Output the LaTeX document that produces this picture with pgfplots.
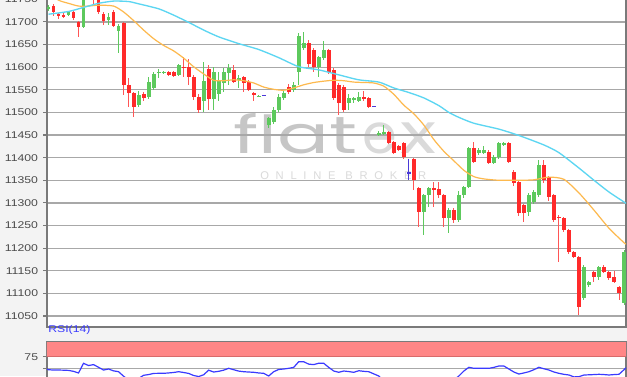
\documentclass[border=0pt]{standalone}
\usepackage{fontspec}
\setmainfont{Liberation Sans}
\newfontfamily\tickfont[FakeStretch=1.25]{Liberation Sans}
\newfontfamily\wmfont{Poppins}
\newfontfamily\wmsmall[LetterSpace=60]{Liberation Sans}
\usepackage{graphicx}
\usepackage{pgfplots}
\pgfplotsset{compat=1.18}
\usepackage{pgfplotstable}

\definecolor{bgc}{HTML}{F3F3F3}
\definecolor{framec}{HTML}{7A7A7A}
\definecolor{gridc}{HTML}{A8A8A8}
\definecolor{upc}{HTML}{5DC95D}
\definecolor{dnc}{HTML}{FF2A2A}
\definecolor{neuc}{HTML}{4A3AD8}
\definecolor{ma1}{HTML}{FDB94E}
\definecolor{ma2}{HTML}{5CD6F2}
\definecolor{rsic}{HTML}{3A3AFF}
\definecolor{bandc}{HTML}{FF8686}
\definecolor{bandl}{HTML}{D86A6A}
\definecolor{labc}{HTML}{4A4A4A}
\definecolor{wm1}{HTML}{C6C6C6}
\definecolor{wm2}{HTML}{DADADA}

% k O H L C
\pgfplotstableread{
k O H L C
0 11728 11738 11725 11733
4 11716 11724 11714 11721
7 11688 11780 11686 11765
8 11765 11795 11760 11785
12 11704 11720 11693 11712
14 11680 11695 11632 11692
18 11516 11548 11512 11538
20 11535 11578 11530 11568
21 11553 11590 11550 11586
22 11587 11595 11575 11590
23 11588 11592 11585 11590
26 11583 11608 11580 11605
31 11525 11612 11500 11570
33 11530 11600 11505 11590
34 11540 11590 11525 11571
35 11565 11598 11545 11590
36 11588 11606 11560 11598
38 11572 11583 11555 11575
42 11535 11538 11534 11537
44 11472 11490 11465 11488
45 11479 11512 11475 11505
46 11505 11540 11500 11534
47 11531 11548 11528 11542
49 11549 11567 11545 11560
50 11590 11675 11560 11668
51 11642 11677 11638 11653
54 11600 11625 11578 11622
55 11620 11657 11615 11638
60 11520 11540 11505 11531
61 11528 11535 11520 11532
62 11526 11545 11522 11535
66 11450 11458 11447 11454
67 11452 11472 11450 11456
75 11280 11320 11229 11317
76 11317 11336 11290 11333
80 11266 11288 11234 11284
82 11262 11327 11258 11317
83 11317 11338 11312 11335
84 11335 11424 11332 11421
86 11410 11421 11405 11418
87 11410 11425 11408 11418
89 11388 11405 11385 11401
90 11401 11434 11398 11432
91 11428 11434 11425 11432
96 11280 11322 11270 11317
97 11302 11328 11298 11324
98 11317 11395 11312 11383
107 11090 11162 11085 11158
108 11118 11128 11115 11125
110 11136 11160 11130 11158
115 11079 11195 11075 11191
}\upT

\pgfplotstableread{
k O H L C
1 11736 11740 11714 11722
2 11718 11720 11706 11714
3 11716 11720 11708 11712
5 11723 11726 11705 11709
6 11700 11702 11667 11688
9 11780 11785 11735 11760
10 11765 11770 11718 11722
11 11718 11722 11693 11702
13 11722 11726 11688 11690
15 11697 11700 11538 11560
16 11560 11575 11511 11542
17 11543 11545 11490 11512
19 11540 11545 11525 11531
24 11590 11592 11580 11583
25 11590 11592 11578 11580
27 11601 11622 11578 11598
28 11600 11618 11560 11578
29 11578 11582 11528 11534
30 11534 11540 11499 11505
32 11596 11604 11505 11530
37 11594 11604 11565 11568
39 11578 11580 11545 11564
40 11568 11572 11548 11549
41 11543 11545 11525 11538
48 11556 11563 11540 11545
52 11653 11660 11600 11608
53 11638 11642 11590 11600
56 11638 11640 11585 11590
57 11594 11598 11528 11531
58 11560 11565 11494 11520
59 11557 11560 11500 11505
63 11535 11548 11525 11530
64 11531 11533 11510 11512
68 11457 11460 11430 11432
69 11434 11436 11408 11410
70 11425 11428 11414 11417
71 11432 11434 11398 11401
73 11397 11400 11328 11350
74 11333 11336 11247 11280
77 11333 11346 11291 11329
78 11331 11346 11312 11317
79 11317 11320 11247 11266
81 11284 11288 11255 11262
85 11421 11434 11388 11390
88 11412 11418 11385 11388
92 11432 11434 11388 11390
93 11369 11372 11338 11344
94 11346 11350 11272 11277
95 11295 11298 11257 11277
99 11383 11395 11345 11350
100 11357 11360 11305 11313
101 11317 11320 11258 11262
102 11270 11273 11169 11266
103 11266 11268 11235 11240
104 11240 11242 11188 11191
105 11191 11193 11178 11180
106 11180 11182 11052 11070
109 11147 11150 11125 11136
111 11158 11162 11144 11147
112 11147 11150 11130 11134
113 11136 11150 11122 11125
114 11114 11116 11085 11101
}\dnT

\pgfplotstableread{
k O H L C
43 11538 11539 11537 11538
65 11514 11515 11513 11514
72 11366 11397 11350 11366
}\neuT

\pgfplotsset{
  wick/.style={forget plot, draw=none, mark=none, error bars/.cd, y dir=both, y explicit, error mark=none, error bar style={draw=#1, line width=0.75pt, solid}},
  body/.style={forget plot, draw=none, mark=none, error bars/.cd, y dir=both, y explicit, error mark=none, error bar style={draw=#1, line width=2.9pt, solid}},
  chart/.style={
    scale only axis, width=434.25pt, xmin=-0.3, xmax=115.4,
    xtick=\empty, ytick pos=left, tick align=outside, major tick length=3pt,
    ytick style={draw=framec, line width=0.8pt},
    axis line style={draw=framec, line width=1pt},
    ymajorgrids, grid style={draw=gridc, line width=0.95pt},
    scaled y ticks=false,
    /pgf/number format/1000 sep={},
    /pgf/number format/assume math mode=true,
    yticklabel style={font=\tickfont\fontsize{7.35pt}{8pt}\selectfont, text=labc, inner sep=0pt, xshift=-3.5pt},
  },
}

\begin{document}
\begin{tikzpicture}
\useasboundingbox (0,0) rectangle (470.25pt,282pt);
\clip (0,0) rectangle (470.25pt,282pt);
\fill[bgc] (0,0) rectangle (470.25pt,282pt);
\fill[white] (35.25pt,36.75pt) rectangle (469.5pt,282pt);
\fill[white] (35.25pt,0pt) rectangle (469.5pt,25.875pt);
% watermark
\node[anchor=base west, inner sep=0pt, text=wm1] at (174.75pt,167.25pt) {\resizebox{93pt}{30pt}{\wmfont flat}};
\node[anchor=base west, inner sep=0pt, text=wm2] at (271.5pt,167.25pt) {\resizebox{26pt}{23pt}{\wmfont e}};
\node[anchor=base west, inner sep=0pt, text=wm2] at (300pt,167.25pt) {\resizebox{27pt}{23pt}{\wmfont x}};
\node[anchor=base west, inner sep=0pt, text=wm2, font=\wmsmall\fontsize{8.4pt}{9pt}\selectfont] at (195pt,147.75pt) {ONLINE BROKER};

\begin{axis}[chart, at={(35.25pt,36.75pt)}, anchor=south west, height=254.25pt,
  ymin=11025.7, ymax=11774.9, ytick={11050,11100,...,11750}]
\addplot[wick={upc}] table[x=k, y expr={(\thisrow{H}+\thisrow{L})/2}, y error expr={(\thisrow{H}-\thisrow{L})/2}] {\upT};
\addplot[body={upc}] table[x=k, y expr={(\thisrow{O}+\thisrow{C})/2}, y error expr={abs(\thisrow{C}-\thisrow{O})/2}] {\upT};
\addplot[wick={dnc!80}] table[x=k, y expr={(\thisrow{H}+\thisrow{L})/2}, y error expr={(\thisrow{H}-\thisrow{L})/2}] {\dnT};
\addplot[body={dnc}] table[x=k, y expr={(\thisrow{O}+\thisrow{C})/2}, y error expr={abs(\thisrow{C}-\thisrow{O})/2}] {\dnT};
\addplot[wick={neuc}] table[x=k, y expr={(\thisrow{H}+\thisrow{L})/2}, y error expr={(\thisrow{H}-\thisrow{L})/2}] {\neuT};
\addplot[forget plot, only marks, mark=-, mark size=1.6pt, mark options={draw=neuc, line width=0.8pt}] table[x=k, y=O] {\neuT};
% moving averages
\addplot[ma1, line width=0.9pt, smooth, tension=0.4] coordinates {
(0,11765) (2,11748) (4,11741) (6,11735) (8,11735) (10,11737) (13,11735) (15,11722)
(17,11703) (19,11682) (21,11663) (23,11648) (25,11636) (27,11620) (29,11601) (31,11585)
(33,11571) (35,11570) (37,11572) (39,11570) (41,11565) (43,11556) (45,11551) (47,11549)
(49,11554) (51,11561) (53,11566) (55,11569) (57,11571) (59,11570) (61,11567) (63,11566)
(65,11565) (67,11558) (69,11540) (71,11516) (73,11497) (75,11472) (77,11440) (79,11414)
(81,11393) (83,11372) (85,11358) (87,11353) (90,11350) (94,11350) (97,11351) (100,11357)
(103,11352) (106,11322) (109,11284) (112,11244) (115,11212) (115.4,11209)};
\addplot[ma2, line width=1pt, smooth, tension=0.4] coordinates {
(0,11717) (4,11723) (7,11732) (10,11741) (13,11746) (16,11745) (18,11740) (22,11729)
(25,11715) (28,11699) (31,11682) (34,11667) (38,11652) (42,11639) (46,11621) (50,11601)
(54,11594) (58,11583) (62,11572) (66,11567) (69,11554) (72,11544) (75,11532) (78,11515)
(80,11500) (82,11489) (85,11476) (90,11463) (94,11449) (99,11428) (102,11411) (106,11377)
(109,11350) (112,11324) (115,11302) (115.4,11299)};
\end{axis}

\node[anchor=west, inner sep=0pt, text=rsic, font=\tickfont\fontsize{7.35pt}{8pt}\selectfont] at (36pt,34.5pt) {RSI(14)};

\begin{axis}[chart, at={(35.25pt,25.875pt)}, anchor=north west, height=37.5pt,
  ymin=0, ymax=107.8, ytick={50,75}, yticklabels={,75}]
\fill[bandc] (axis cs:-1,75) rectangle (axis cs:117,107.8);
\draw[bandl, line width=0.9pt] (axis cs:-1,75) -- (axis cs:117,75);
\addplot[rsic, line width=0.9pt] coordinates {
(-0.3,48.5) (0,47) (1,46.3) (2,46.3) (3,46) (4,45.5) (5,43.5) (6,39.9) (7,60.8) (8,56) (9,58)
(10,52.2) (11,46.3) (12,48.5) (13,44.5) (14,42.7) (15,33) (16,25) (17,22) (18,28) (19,35)
(20,36.5) (21,39) (22,39.2) (23,39.2) (24,40) (25,41) (26,42.7) (27,41) (28,39) (29,34.5)
(30,32.3) (31,36) (32,46) (33,42) (34,43.5) (35,46) (36,50) (37,47) (38,44) (39,42.7)
(40,42) (41,41.4) (42,40) (43,39.2) (44,33.4) (45,42.7) (46,47.5) (47,48.5) (48,50) (49,52)
(50,64.2) (51,64.2) (52,59) (53,58) (54,61) (55,60.8) (56,52) (57,44.2) (58,41.4) (59,44.2)
(60,43) (61,41.4) (62,44.8) (63,43.5) (64,42.7) (65,38) (66,33.4) (67,22) (68,16) (69,12)
(70,13) (71,12) (72,8) (73,10) (74,12) (75,15) (76,18) (77,20) (78,16) (79,15)
(80,18) (81,25) (82,33.4) (83,44.2) (84,52.2) (85,50) (86,50) (87,50) (88,50) (89,52)
(90,55) (91,55) (92,48.5) (93,42) (94,37.7) (95,40) (96,42.7) (97,47) (98,52.2) (99,49)
(100,46.3) (101,42) (102,39.2) (103,37) (104,35.6) (105,31.5) (106,32) (107,35.6) (108,36) (109,36.5)
(110,37.1) (111,36.5) (112,35.6) (113,36.5) (114,37.1) (115,47) (115.4,51)};
\end{axis}
\end{tikzpicture}
\end{document}
